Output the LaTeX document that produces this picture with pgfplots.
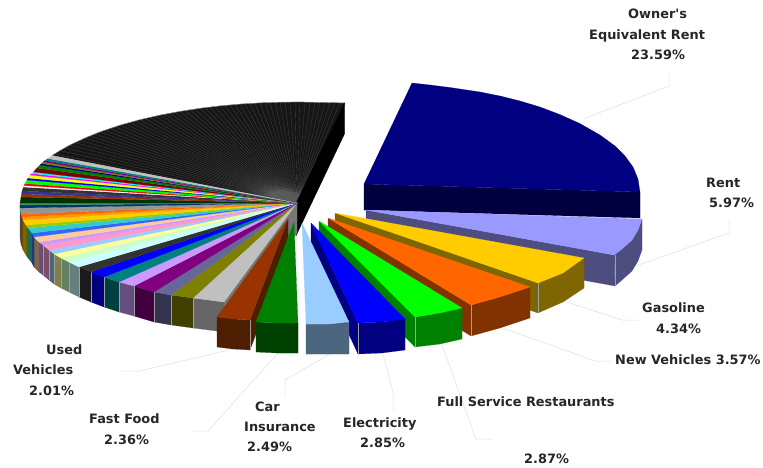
\documentclass[border=0pt]{standalone}
\usepackage{pgfplots}
\pgfplotsset{compat=1.18}
\usepackage{fontspec}
\newfontfamily\lab{DejaVu Sans Bold}
\def\dc#1{\definecolor{c#1}{HTML}{#1}}
\dc{FF6600}\dc{FF9900}\dc{FFCC00}\dc{99CC00}\dc{33CCCC}\dc{3366FF}\dc{FFCC99}\dc{CC99FF}\dc{FF99CC}\dc{99CCFF}\dc{FFFF99}\dc{CCFFCC}\dc{CCFFFF}\dc{333333}\dc{0000FF}\dc{008080}\dc{800080}\dc{666699}\dc{808000}\dc{C0C0C0}\dc{969696}\dc{003366}\dc{339966}\dc{003300}\dc{993300}\dc{333399}\dc{FFFFFF}\dc{FF0000}\dc{00FF00}\dc{FFFF00}\dc{FF00FF}\dc{00FFFF}\dc{800000}\dc{008000}\dc{000080}
\dc{666666}\dc{404000}\dc{33334D}\dc{400040}\dc{664D80}\dc{004040}\dc{1A1A1A}\dc{668080}\dc{668066}\dc{80804D}\dc{4D6680}\dc{804D66}\dc{80664D}\dc{1A3380}\dc{1A6666}\dc{4D6600}\dc{806600}\dc{804D00}\dc{803300}\dc{4B4B4B}\dc{777777}\dc{000000}\dc{161616}\dc{000040}\dc{9999FF}\dc{4D4D80}\dc{004000}\dc{4D1F00}
\definecolor{spoke}{HTML}{5A5A5A}
\newcommand\PP[2]{\addplot[fill=c#1,draw=c#1,line width=0.15pt,line join=bevel] coordinates {#2} -- cycle;}
\newcommand\V[3]{\addplot[color=gray!75,line width=0.25pt] coordinates {(#1,#2) (#1,#3)};}
\newcommand\LL[1]{\addplot[color=black!13,line width=0.5pt] coordinates {#1};}
\newcommand\T[3]{\node[anchor=base west,inner sep=0pt,text=black!85] at (axis cs:#1,#2) {\lab\fontsize{12.9}{15}\selectfont #3};}
\begin{document}
\begin{tikzpicture}
\begin{axis}[hide axis,scale only axis,width=763pt,height=468pt,xmin=0,xmax=763,ymin=0,ymax=468,y dir=reverse,clip=false]
\path (axis cs:0,0) rectangle (axis cs:763,468);
% leader lines
\LL{(583,119) (669,86) (669,71)}
\LL{(633,267) (729,233) (729,220)}
\LL{(567,302) (622,320) (638,320)}
\LL{(503,328) (595,361) (612,361)}
\LL{(442,345) (476,439) (493,439)}
\LL{(383,354) (393,393) (393,411)}
\LL{(330,354) (285,380) (285,395)}
\LL{(278,353) (208,431) (192,431)}
\LL{(233,349) (140,371) (122,371)}
% black many-slice sector
\PP{161616}{(297,203) (52,155.5) (60,150.6) (70,145) (85,138) (100,131.9) (120,125.2) (140,119.7) (160,115.1) (180,111.4) (200,108.3) (220,105.9) (240,104.1) (260,102.9) (280,102.2) (300,102) (320,102.4) (345,103)}
\addplot[color=spoke,line width=0.14pt,line join=bevel] coordinates {(297,203) (55,154) (297,203) (60,150.6) (297,203) (65,147.8) (297,203) (70,145) (297,203) (75,142.6) (297,203) (80,140.3) (297,203) (85,138) (297,203) (90,136) (297,203) (95,134) (297,203) (100,131.9) (297,203) (105,130.2) (297,203) (110,128.5) (297,203) (115,126.9) (297,203) (120,125.2) (297,203) (125,123.8) (297,203) (130,122.4) (297,203) (135,121) (297,203) (140,119.7) (297,203) (145,118.5) (297,203) (150,117.4) (297,203) (155,116.2) (297,203) (160,115.1) (297,203) (165,114.2) (297,203) (170,113.2) (297,203) (175,112.3) (297,203) (180,111.4) (297,203) (185,110.6) (297,203) (190,109.8) (297,203) (195,109) (297,203) (200,108.3) (297,203) (205,107.7) (297,203) (210,107.1) (297,203) (215,106.5) (297,203) (220,105.9) (297,203) (225,105.4) (297,203) (230,105) (297,203) (235,104.5) (297,203) (240,104.1) (297,203) (245,103.8) (297,203) (250,103.5) (297,203) (255,103.2) (297,203) (260,102.9) (297,203) (265,102.7) (297,203) (270,102.6) (297,203) (275,102.4) (297,203) (280,102.2) (297,203) (285,102.1) (297,203) (290,102.1) (297,203) (295,102) (297,203) (300,102) (297,203) (305,102.1) (297,203) (310,102.2) (297,203) (315,102.3) (297,203) (320,102.4) (297,203) (325,102.5) (297,203) (330,102.6) (297,203) (335,102.7) (297,203) (340,102.9) (297,203) (345,103)};
\addplot[color=gray!70,line width=0.3pt] coordinates {(52,155.5) (60,150.6) (70,145) (85,138) (100,131.9) (120,125.2) (140,119.7) (160,115.1) (180,111.4) (200,108.3) (220,105.9) (240,104.1) (260,102.9) (280,102.2) (300,102) (320,102.4) (345,103)};
\PP{000000}{(344.5,103) (344.5,134) (296,236) (296,203)}
% main pie walls
\PP{777777}{(297,203) (224,302) (224,332) (297,233)}
\PP{666666}{(193,298) (224,302) (224,332) (193,328)}
\PP{404000}{(171,295) (193,298) (193,328) (171,325)}
\PP{33334D}{(154,292) (171,295) (171,325) (154,322)}
\PP{400040}{(134,286) (154,292) (154,322) (134,316)}
\PP{664D80}{(119,282) (134,286) (134,316) (119,312)}
\PP{004040}{(104,277) (119,282) (119,312) (104,307)}
\PP{000080}{(91,272) (104,277) (104,307) (91,302)}
\PP{1A1A1A}{(79,267) (91,272) (91,302) (79,297)}
\PP{668080}{(69,262) (79,267) (79,297) (69,292)}
\PP{668066}{(61,258) (69,262) (69,292) (61,288)}
\PP{80804D}{(54,254) (61,258) (61,288) (54,284)}
\PP{4D6680}{(49,250) (54,254) (54,284) (49,280)}
\PP{804D66}{(43,245) (49,250) (49,280) (43,275)}
\PP{664D80}{(39,242) (43,245) (43,275) (39,272)}
\PP{80664D}{(34,237) (39,242) (39,272) (34,267)}
\PP{1A3380}{(32,233) (34,237) (34,267) (32,263)}
\PP{1A6666}{(28,228) (32,233) (32,263) (28,258)}
\PP{4D6600}{(26,225) (28,228) (28,258) (26,255)}
\PP{806600}{(23,220) (26,225) (26,255) (23,250)}
\PP{804D00}{(22,217) (23,220) (23,250) (22,247)}
\PP{803300}{(21,214) (22,217) (22,247) (21,244)}
\PP{4B4B4B}{(20,203) (20,208) (21,214) (21,244) (20,238) (20,233)}
\V{193}{298}{328}\V{171}{295}{325}\V{154}{292}{322}\V{134}{286}{316}\V{119}{282}{312}\V{104}{277}{307}\V{91}{272}{302}\V{79}{267}{297}\V{69}{262}{292}\V{61}{258}{288}\V{54}{254}{284}\V{49}{250}{280}\V{43}{245}{275}
% main pie top
\PP{C0C0C0}{(297,203) (224,302) (193,298)}
\PP{808000}{(297,203) (193,298) (171,295)}
\PP{666699}{(297,203) (171,295) (154,292)}
\PP{800080}{(297,203) (154,292) (134,286)}
\PP{CC99FF}{(297,203) (134,286) (119,282)}
\PP{008080}{(297,203) (119,282) (104,277)}
\PP{0000FF}{(297,203) (104,277) (91,272)}
\PP{333333}{(297,203) (91,272) (79,267)}
\PP{CCFFFF}{(297,203) (79,267) (69,262)}
\PP{CCFFCC}{(297,203) (69,262) (61,258)}
\PP{FFFF99}{(297,203) (61,258) (54,254)}
\PP{99CCFF}{(297,203) (54,254) (49,250)}
\PP{FF99CC}{(297,203) (49,250) (43,245)}
\PP{CC99FF}{(297,203) (43,245) (39,242)}
\PP{FFCC99}{(297,203) (39,242) (34,237)}
\PP{3366FF}{(297,203) (34,237) (32,233)}
\PP{33CCCC}{(297,203) (32,233) (28,228)}
\PP{99CC00}{(297,203) (28,228) (26,225)}
\PP{FFCC00}{(297,203) (26,225) (23,220)}
\PP{FF9900}{(297,203) (23,220) (22,217)}
\PP{FF6600}{(297,203) (22,217) (21,214)}
\PP{969696}{(297,203) (21,214) (20,208)}
\PP{003366}{(297,203) (20,208) (20,205)}
\PP{339966}{(297,203) (20,205) (20,203)}
\PP{003300}{(297,203) (20,203) (21,197)}
\PP{993300}{(297,203) (21,197) (21.5,194)}
\PP{333399}{(297,203) (21.5,194) (22,191)}
\PP{333333}{(297,203) (22,191) (23.5,187)}
\PP{FFFFFF}{(297,203) (23.5,187) (24,185.5)}
\PP{FF0000}{(297,203) (24,185.5) (25,183.5)}
\PP{00FF00}{(297,203) (25,183.5) (27,180)}
\PP{0000FF}{(297,203) (27,180) (28,178)}
\PP{FFFF00}{(297,203) (28,178) (30,175)}
\PP{FF00FF}{(297,203) (30,175) (32,173.5)}
\PP{00FFFF}{(297,203) (32,173.5) (33.5,172)}
\PP{800000}{(297,203) (33.5,172) (37,168)}
\PP{008000}{(297,203) (37,168) (40,165)}
\PP{000080}{(297,203) (40,165) (41.5,163.5)}
\PP{808000}{(297,203) (41.5,163.5) (43,162)}
\PP{800080}{(297,203) (43,162) (45,160.5)}
\PP{008080}{(297,203) (45,160.5) (48,158.5)}
\PP{C0C0C0}{(297,203) (48,158.5) (52,155.5)}
% Owner's Equivalent Rent
\PP{000040}{(364,184) (640,192) (640,218) (364,210)}
\PP{000080}{(364,184) (412,83) (430,85) (450,87.5) (480,92) (500,96) (520,101) (540,107) (560,114.6) (580,123.6) (600,135) (615,146) (625,156) (633,167) (638,179) (640,192)}
% Rent
\PP{4D4D80}{(366,210) (614,255) (615,286) (366,241)}
\PP{4D4D80}{(614,255) (622,249) (632,240) (638,230) (642,219) (642,250) (638,261) (632,271) (622,280) (615,286)}
\PP{9999FF}{(366,210) (642,219) (638,230) (632,240) (622,249) (614,255)}
\V{615}{255}{286}
% Gasoline
\PP{806600}{(335,213) (538,283) (538,313) (335,243)}
\PP{806600}{(538,283) (563,273) (584,258) (584,288) (563,302) (538,313)}
\PP{FFCC00}{(335,213) (584,258) (563,273) (538,283)}
\V{538}{283}{313}
% New Vehicles
\PP{803300}{(328,218) (471,305) (471,336) (328,248)}
\PP{803300}{(471,305) (500,297) (530,287) (530,318) (500,328) (471,336)}
\PP{FF6600}{(328,218) (530,287) (500,297) (471,305)}
\V{471}{305}{336}
% Full Service Restaurants
\PP{008000}{(319,221) (415,317) (415,347) (319,251)}
\PP{008000}{(415,317) (440,313) (462,308) (462,339) (440,344) (415,347)}
\PP{00FF00}{(319,221) (462,308) (440,313) (415,317)}
\V{415}{317}{347}
% Electricity
\PP{000080}{(311,223) (358,323) (358,354) (311,253)}
\PP{000080}{(358,323) (382,322) (405,319) (405,350) (382,353) (358,354)}
\PP{0000FF}{(311,223) (405,319) (382,322) (358,323)}
\V{358}{323}{354}
% Car Insurance
\PP{4D6680}{(306,324) (328,324) (349,322) (349,354) (328,354) (306,354)}
\PP{99CCFF}{(302,223) (349,322) (328,324) (306,324)}
% Fast Food
\PP{4D1F00}{(288,219) (250,320) (250,350) (288,249)}
\PP{4D1F00}{(217,317) (233,319) (250,320) (250,350) (233,349) (217,347)}
\PP{993300}{(288,219) (250,320) (233,319) (217,317)}
\V{250}{320}{350}
% Used Vehicles
\PP{004000}{(256,322) (277,323) (298,323) (298,353) (277,353) (256,352)}
\PP{008000}{(294,222) (298,323) (277,323) (256,322)}
% labels
\T{628}{19}{Owner's}
\T{589}{40}{Equivalent Rent}
\T{631}{60}{23.59\%}
\T{706}{187}{Rent}
\T{709}{207}{5.97\%}
\T{642}{312}{Gasoline}
\T{656}{333}{4.34\%}
\T{615}{364}{New Vehicles 3.57\%}
\T{437}{406}{Full Service Restaurants}
\T{524}{463}{2.87\%}
\T{343}{427}{Electricity}
\T{360}{447}{2.85\%}
\T{255}{411}{Car}
\T{244}{431}{Insurance}
\T{247}{451}{2.49\%}
\T{89}{423}{Fast Food}
\T{104}{444}{2.36\%}
\T{46}{354}{Used}
\T{13}{374}{Vehicles}
\T{29}{395}{2.01\%}
\end{axis}
\end{tikzpicture}
\end{document}
